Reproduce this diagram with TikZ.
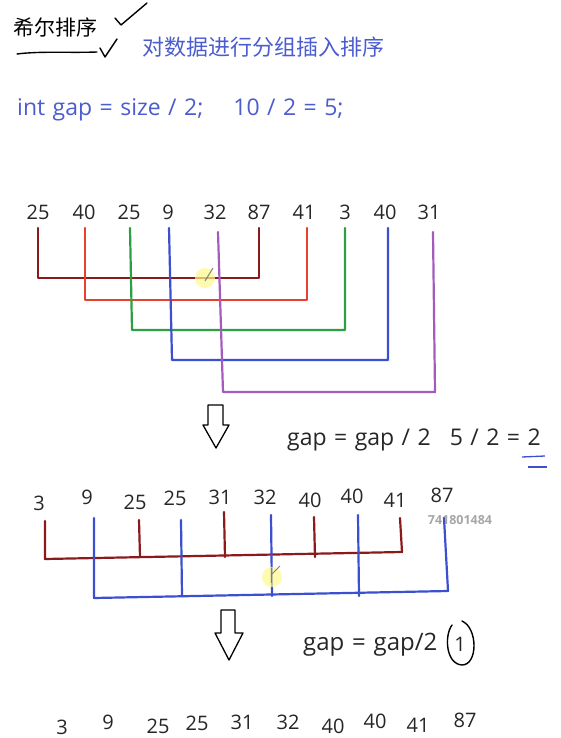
\documentclass[tikz,border=0pt]{standalone}
\usepackage{fontspec}
\setmainfont{Open Sans}
\newfontfamily\notefont[WordSpace=1.25]{Open Sans}
\newfontfamily\cjk{Noto Sans CJK SC}
\usetikzlibrary{calc}

\definecolor{dred}{HTML}{8B1A1A}
\definecolor{lred}{HTML}{E8402E}
\definecolor{lgreen}{HTML}{2E9E45}
\definecolor{lblue}{HTML}{3C4FD0}
\definecolor{lpurple}{HTML}{A45BBE}
\definecolor{txtblue}{HTML}{4A5CCF}
\definecolor{txtgray}{HTML}{262626}

\tikzset{
  num/.style={font=\fontsize{20}{24}\selectfont, text=txtgray, inner sep=0pt},
  note/.style={font=\notefont\fontsize{23}{28}\selectfont, inner sep=0pt, anchor=west},
  group/.style={line width=2.2pt, line join=round, line cap=round},
  hand/.style={line width=1.4pt, line join=round, line cap=round},
  cursor/.style={fill=yellow!45, opacity=0.7, draw=none},
}

\begin{document}
\begin{tikzpicture}[x=1pt, y=-1pt]
  \useasboundingbox (0,0) rectangle (561,738);

  % heading
  \node[note, text=black, font=\cjk\fontsize{21}{24}\selectfont] (title) at (13,28) {希尔排序};
  \draw[hand] (115,18) -- (121,25) -- (147,3);
  \draw[hand] (100,48) -- (105,57) -- (117,39);
  \draw[hand] (17,54) .. controls (40,51) and (70,53) .. (97,52);
  \node[note, text=txtblue, font=\cjk\fontsize{22}{26}\selectfont] (idea) at (142,47) {对数据进行分组插入排序};
  \node[note, text=txtblue] (init) at (17,110) {int gap = size / 2;\hspace{30pt}10 / 2 = 5;};

  % first pass, gap = 5
  \node[num] (a1)  at (38,212)  {25};
  \node[num] (a2)  at (84,212)  {40};
  \node[num] (a3)  at (129,212) {25};
  \node[num] (a4)  at (168,212) {9};
  \node[num] (a5)  at (215,212) {32};
  \node[num] (a6)  at (259,212) {87};
  \node[num] (a7)  at (304,212) {41};
  \node[num] (a8)  at (345,212) {3};
  \node[num] (a9)  at (385,212) {40};
  \node[num] (a10) at (429,212) {31};

  \coordinate (top1) at (0,228);
  \coordinate (bus1) at (0,278);
  \coordinate (bus2) at (0,300);
  \coordinate (bus3) at (0,330);
  \coordinate (bus4) at (0,360);
  \coordinate (bus5) at (0,392);

  \draw[group, dred]    (a1 |- top1) -- (a1 |- bus1) -- (a6 |- bus1) -- (a6 |- top1);
  \draw[group, lred]    ([xshift=1]a2 |- top1) -- ([xshift=1]a2 |- bus2) -- ([xshift=3]a7 |- bus2) -- ([xshift=3]a7 |- top1);
  \draw[group, lgreen]  ([xshift=1]a3 |- top1) -- ([xshift=3]a3 |- bus3) -- (a8 |- bus3) -- (a8 |- top1);
  \draw[group, lblue]   ([xshift=1]a4 |- top1) -- ([xshift=4]a4 |- bus4) -- ([xshift=3]a9 |- bus4) -- ([xshift=3]a9 |- top1);
  \draw[group, lpurple] ([xshift=3]a5 |- {0,232}) -- ([xshift=8]a5 |- bus5) -- ([xshift=6]a10 |- bus5) -- ([xshift=4]a10 |- {0,232});

  \fill[cursor] (205,278) circle (10);
  \draw[gray, line width=1pt] (205,281) -- (213,268);

  % step down
  \draw[line width=1.3pt, line join=round] (208,405) -- (223,405) -- (223,425) -- (229,425) -- (216,448) -- (203,425) -- (208,425) -- cycle;
  \node[note, text=txtgray] (half1) at (287,440) {gap = gap / 2\hspace{19pt}5 / 2 = 2};
  \draw[lblue, line width=1.3pt] (522,457) -- (545,456);
  \draw[lblue, line width=1.3pt] (528,467) -- (547,467);

  % second pass, gap = 2
  \node[num] (b1)  at (39,503)  {3};
  \node[num] (b2)  at (87,497)  {9};
  \node[num] (b3)  at (135,502) {25};
  \node[num] (b4)  at (175,498) {25};
  \node[num] (b5)  at (220,497) {31};
  \node[num] (b6)  at (265,497) {32};
  \node[num] (b7)  at (310,500) {40};
  \node[num] (b8)  at (352,496) {40};
  \node[num] (b9)  at (395,500) {41};
  \node[num] (b10) at (442,495) {87};
  \node[font=\bfseries\fontsize{12.5}{15}\selectfont, text=gray!70, inner sep=0pt] (mark) at (460,520) {741801484};

  \coordinate (even) at (0,557);
  \coordinate (odd) at (0,596);

  \draw[group, dred] ([xshift=6]b1 |- {0,521}) -- ([xshift=6]b1 |- {0,559}) -- ([xshift=7]b9 |- {0,552}) -- ([xshift=5]b9 |- {0,518});
  \foreach \k/\t in {b3/520, b5/512, b7/517}
    \draw[group, dred] ([xshift=4]\k |- {0,\t}) -- ([xshift=5]\k |- even);

  \draw[group, lblue] ([xshift=7]b2 |- {0,518}) -- ([xshift=7]b2 |- {0,598}) -- ([xshift=6]b10 |- {0,591}) -- ([xshift=2]b10 |- {0,518});
  \foreach \k/\t in {b4/520, b6/515, b8/515}
    \draw[group, lblue] ([xshift=6]\k |- {0,\t}) -- ([xshift=7]\k |- odd);

  \fill[cursor] (272,577) circle (10);
  \draw[gray, line width=1pt] (271,583) -- (271,568);
  \draw[gray, line width=1pt] (271,575) -- (280,566);

  % step down
  \draw[line width=1.3pt, line join=round] (221,610) -- (235,610) -- (235,633) -- (243,633) -- (229,660) -- (215,633) -- (221,633) -- cycle;
  \node[note, text=txtgray, font=\notefont\fontsize{24}{29}\selectfont] (half2) at (303,645) {gap = gap/2};
  \node[num] (one) at (460,644) {1};
  \draw[hand] (452,625) .. controls (444,636) and (446,664) .. (462,665) .. controls (478,665) and (478,628) .. (462,621);

  % third pass, gap = 1
  \node[num] (c1)  at (62,727)  {3};
  \node[num] (c2)  at (108,722) {9};
  \node[num] (c3)  at (158,726) {25};
  \node[num] (c4)  at (197,723) {25};
  \node[num] (c5)  at (242,722) {31};
  \node[num] (c6)  at (288,722) {32};
  \node[num] (c7)  at (333,726) {40};
  \node[num] (c8)  at (375,721) {40};
  \node[num] (c9)  at (418,725) {41};
  \node[num] (c10) at (465,720) {87};
\end{tikzpicture}
\end{document}
